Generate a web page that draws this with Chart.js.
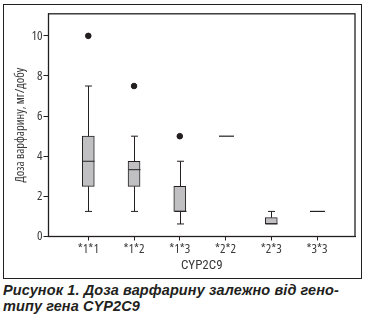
<!DOCTYPE html>
<html>
<head>
<meta charset="utf-8">
<script src="https://cdn.jsdelivr.net/npm/chart.js@4.4.0/dist/chart.umd.min.js"></script>
<style>
  body { margin: 0; background: #fff; width: 368px; height: 323px; position: relative; overflow: hidden; }
  #frame { position: absolute; left: 3px; top: 4px; width: 359px; height: 275px; box-sizing: border-box; border: 1.5px solid #231f20; }
  #wrap { position: absolute; left: 0; top: 0; width: 356px; height: 272px; }
  #caption { position: absolute; left: 3px; top: 282px; width: 365px; font: italic bold 14.5px "Liberation Sans", Arial, sans-serif; letter-spacing: 0.1px; line-height: 16px; color: #231f20; }
</style>
</head>
<body>
<div id="frame"><div id="wrap"><canvas id="myChart"></canvas></div></div>
<div id="caption">Рисунок 1. Доза варфарину залежно від гено-<br>типу гена CYP2C9</div>
<script>
const categories = ['*1*1', '*1*2', '*1*3', '*2*2', '*2*3', '*3*3'];
const q1 = [2.5, 2.5, 1.25, 5.0, 0.625, 1.25];
const q3 = [5.0, 3.75, 2.5, 5.0, 0.94, 1.25];
const medians = [3.75, 3.33, 1.25, 5.0, 0.625, 1.25];
const whiskerLow = [1.25, 1.25, 0.625, 5.0, 0.625, 1.25];
const whiskerHigh = [7.5, 5.0, 3.75, 5.0, 1.25, 1.25];
const outliers = [[10], [7.5], [5.0], [], [], []];
const yTicks = [0, 2, 4, 6, 8, 10];

const ink = '#231f20';
const textColor = '#3a3a3a';
// 'condensed' goes in the weight slot so the font string gets a font-stretch
const tickFont = { family: "'Open Sans', 'Roboto Condensed', sans-serif", weight: 'condensed', size: 13 };
const yTitleFont = { family: "'Open Sans', 'Roboto Condensed', sans-serif", weight: 'condensed', size: 12.5 };
const xTitleFont = { family: "'Roboto Condensed', sans-serif", size: 13 };

// whiskers, caps, medians and the plot frame
const boxPlugin = {
  id: 'boxPlugin',
  afterDatasetsDraw(chart) {
    const ctx = chart.ctx;
    const x = chart.scales.x, y = chart.scales.y;
    const a = chart.chartArea;
    ctx.save();
    ctx.strokeStyle = ink;
    categories.forEach((c, i) => {
      const px = Math.round(x.getPixelForValue(i + 1)) + 0.5;
      if (q1[i] == q3[i]) {
        ctx.lineWidth = 1.2;
        const py = y.getPixelForValue(medians[i]);
        ctx.beginPath(); ctx.moveTo(px - 7.5, py); ctx.lineTo(px + 7.5, py); ctx.stroke();
        return;
      }
      ctx.lineWidth = 1;
      const top = y.getPixelForValue(q3[i]), bot = y.getPixelForValue(q1[i]);
      const hi = y.getPixelForValue(whiskerHigh[i]), lo = y.getPixelForValue(whiskerLow[i]);
      ctx.beginPath();
      if (whiskerHigh[i] > q3[i]) {
        ctx.moveTo(px, top); ctx.lineTo(px, hi);
        ctx.moveTo(px - 3.5, hi); ctx.lineTo(px + 3.5, hi);
      }
      if (whiskerLow[i] < q1[i]) {
        ctx.moveTo(px, bot); ctx.lineTo(px, lo);
        ctx.moveTo(px - 3.5, lo); ctx.lineTo(px + 3.5, lo);
      }
      const m = y.getPixelForValue(medians[i]);
      ctx.moveTo(px - 6, m); ctx.lineTo(px + 6, m);
      ctx.stroke();
    });
    ctx.lineWidth = 1.3;
    ctx.strokeRect(a.left, a.top, a.right - a.left, a.bottom - a.top);
    ctx.restore();
  }
};

const boxData = [];
categories.forEach((c, i) => {
  if (q1[i] != q3[i]) boxData.push({ x: i + 1, y: [q1[i], q3[i]] });
});

new Chart(document.getElementById('myChart'), {
  type: 'bar',
  data: {
    datasets: [{
      type: 'bar',
      data: boxData,
      backgroundColor: '#c0c0c2',
      borderColor: ink,
      borderWidth: 1,
      borderSkipped: false,
      barThickness: 12
    }, {
      type: 'scatter',
      data: outliers.flatMap((list, i) => list.map(v => ({ x: i + 1, y: v }))),
      backgroundColor: ink,
      borderColor: ink,
      pointRadius: 2.8
    }]
  },
  options: {
    responsive: true,
    maintainAspectRatio: false,
    animation: false,
    layout: { padding: { top: 5, right: 3.5, left: 0, bottom: 0 } },
    plugins: { legend: { display: false }, tooltip: { enabled: false } },
    scales: {
      x: {
        type: 'linear',
        offset: false,
        min: 0.13,
        max: 6.83,
        afterBuildTicks: s => { s.ticks = categories.map((c, i) => ({ value: i + 1 })); },
        afterFit: s => { s.height = 40.5; },
        ticks: { callback: v => categories[v - 1], color: textColor, font: tickFont, padding: 1, maxRotation: 0 },
        grid: { offset: false, drawOnChartArea: false, tickLength: 4, color: ink },
        border: { color: ink },
        title: { display: true, text: 'CYP2C9', color: textColor, font: xTitleFont, padding: { top: 0, bottom: 3 } }
      },
      y: {
        min: 0,
        max: 11.1,
        afterBuildTicks: s => { s.ticks = yTicks.map(v => ({ value: v })); },
        afterFit: s => { s.width = 44.5; },
        ticks: { color: textColor, font: tickFont, padding: 1 },
        grid: { drawOnChartArea: false, tickLength: 5, color: ink },
        border: { color: ink },
        title: { display: true, text: 'Доза варфарину, мг/добу', color: textColor, font: yTitleFont, padding: { top: 9, bottom: 0 } }
      }
    }
  },
  plugins: [boxPlugin]
});
</script>
</body>
</html>
